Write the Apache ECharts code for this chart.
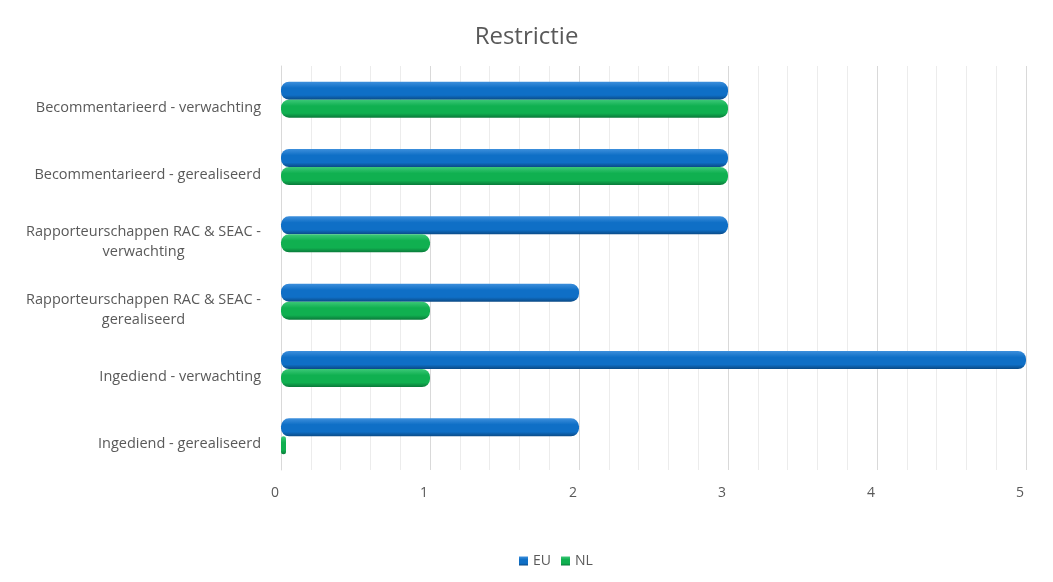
<!DOCTYPE html>
<html>
<head>
<meta charset="utf-8">
<title>Restrictie</title>
<script src="https://cdn.jsdelivr.net/npm/echarts@6/dist/echarts.min.js"></script>
<style>
  html, body { margin: 0; padding: 0; background: #fff; }
  #main { width: 1053px; height: 582px; }
</style>
</head>
<body>
<div id="main"></div>
<script>
// categorieen, van boven naar onder
const categories = [
  "Becommentarieerd - verwachting",
  "Becommentarieerd - gerealiseerd",
  "Rapporteurschappen RAC & SEAC - verwachting",
  "Rapporteurschappen RAC & SEAC - gerealiseerd",
  "Ingediend - verwachting",
  "Ingediend - gerealiseerd"
];
const euValues = [3, 3, 3, 2, 5, 2];
const nlValues = [3, 3, 1, 1, 1, 0];
const xTicks = [0, 1, 2, 3, 4, 5];

// cilinder-look: licht boven, donker onder
function cylinder(light, mid, dark) {
  return new echarts.graphic.LinearGradient(0, 0, 0, 1, [
    { offset: 0, color: light },
    { offset: 0.35, color: mid },
    { offset: 0.75, color: mid },
    { offset: 1, color: dark }
  ]);
}

const chart = echarts.init(document.getElementById("main"));
chart.setOption({
  animation: false,
  textStyle: { fontFamily: "Open Sans" },
  title: {
    text: "Restrictie",
    left: "center",
    top: 20,
    textStyle: { fontSize: 24, fontWeight: "normal", color: "#595959" }
  },
  legend: {
    bottom: 9,
    left: 514,
    icon: "rect",
    itemWidth: 9,
    itemHeight: 9,
    itemGap: 10,
    textStyle: { fontSize: 14, color: "#595959" },
    data: ["EU", "NL"]
  },
  grid: { left: 281, right: 27, top: 66, bottom: 112 },
  xAxis: {
    type: "value",
    min: xTicks[0],
    max: xTicks[xTicks.length - 1],
    interval: 1,
    axisLine: { show: false },
    axisTick: { show: false },
    axisLabel: { fontSize: 14, color: "#595959", margin: 16, padding: [0, 12, 0, 0] },
    splitLine: { show: true, lineStyle: { color: "#d9d9d9" } },
    minorTick: { show: false, splitNumber: 5 },
    minorSplitLine: { show: true, lineStyle: { color: "#ececec" } }
  },
  yAxis: {
    type: "category",
    inverse: true,
    data: categories,
    axisTick: { show: false },
    axisLine: { show: true, lineStyle: { color: "#d9d9d9" } },
    axisLabel: {
      fontSize: 14.5,
      color: "#595959",
      margin: 20,
      lineHeight: 20,
      padding: [16, 0, 0, 0],
      formatter: function (v) {
        if (v.length > 35) {
          const i = v.lastIndexOf(" - ");
          return "{c|" + v.slice(0, i + 2) + "}\n{c|" + v.slice(i + 3) + "}";
        }
        return v;
      },
      rich: { c: { align: "center", fontSize: 14.5, color: "#595959", lineHeight: 20 } }
    }
  },
  series: [
    {
      name: "EU",
      type: "bar",
      data: euValues,
      barWidth: 18,
      barGap: "0%",
      itemStyle: {
        color: cylinder("#3d8fdc", "#0f6fc6", "#0a4a86"),
        borderRadius: 8
      }
    },
    {
      name: "NL",
      type: "bar",
      data: nlValues,
      barWidth: 18,
      barMinHeight: 5,
      itemStyle: {
        color: cylinder("#3cc878", "#10b050", "#0a7a3a"),
        borderRadius: 8
      }
    }
  ],
  color: ["#0f6fc6", "#10b050"]
});
</script>
</body>
</html>
